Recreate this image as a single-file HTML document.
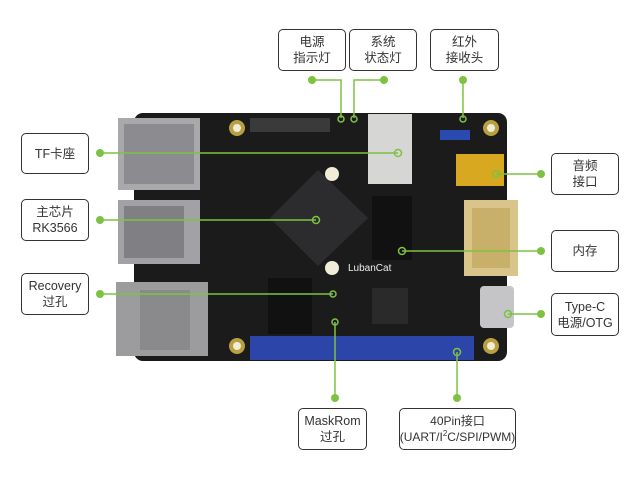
<!DOCTYPE html>
<html><head><meta charset="utf-8"><style>
html,body{margin:0;padding:0;background:#fff;}
body{width:640px;height:480px;position:relative;overflow:hidden;font-family:"Liberation Sans","Noto Sans CJK SC",sans-serif;}
.b{position:absolute;border:1.5px solid #333;border-radius:5px;background:#fff;box-sizing:border-box;display:flex;align-items:center;justify-content:center;text-align:center;font-size:12.5px;line-height:16px;color:#333;}
.b span{display:block;white-space:nowrap;}
svg{position:absolute;left:0;top:0;}
</style></head><body>
<svg width="640" height="480" viewBox="0 0 640 480">
<rect x="134" y="113" width="373" height="248" rx="9" fill="#1c1b1c"/>
<rect x="250" y="118" width="80" height="14" fill="#3a3a3a"/>
<rect x="118" y="118" width="82" height="72" fill="#a9a9ab"/>
<rect x="124" y="124" width="70" height="60" fill="#8c8c90"/>
<rect x="118" y="200" width="82" height="64" fill="#a2a2a6"/>
<rect x="124" y="206" width="60" height="52" fill="#7f7f84"/>
<rect x="116" y="282" width="92" height="74" fill="#9c9c9e"/>
<rect x="140" y="290" width="50" height="60" fill="#8a8a8d"/>
<rect x="368" y="114" width="44" height="70" fill="#d6d6d4"/>
<rect x="456" y="154" width="48" height="32" fill="#d8a820"/>
<rect x="464" y="200" width="54" height="76" fill="#d9c48a"/>
<rect x="472" y="208" width="38" height="60" fill="#c9b06a"/>
<rect x="480" y="286" width="34" height="42" rx="4" fill="#c5c5c7"/>
<polygon points="318,170 368,218 318,266 270,218" fill="#2c2c2e"/>
<rect x="372" y="196" width="40" height="64" fill="#111"/>
<rect x="268" y="278" width="44" height="56" fill="#111"/>
<rect x="372" y="288" width="36" height="36" fill="#2a2a2a"/>
<rect x="440" y="130" width="30" height="10" fill="#2a4ab0"/>
<rect x="250" y="336" width="224" height="24" fill="#2b46a8"/>
<g fill="#b8a040"><circle cx="237" cy="128" r="8"/><circle cx="491" cy="128" r="8"/><circle cx="237" cy="346" r="8"/><circle cx="491" cy="346" r="8"/></g>
<g fill="#f0ecd8"><circle cx="237" cy="128" r="4"/><circle cx="491" cy="128" r="4"/><circle cx="237" cy="346" r="4"/><circle cx="491" cy="346" r="4"/><circle cx="332" cy="174" r="7"/><circle cx="332" cy="268" r="7"/></g>
<text x="348" y="271" font-size="10" fill="#eee" font-family="Liberation Sans">LubanCat</text>
<g stroke="#7dc242" stroke-width="1.5" fill="none">
<polyline points="312,80 341,80 341,118"/>
<polyline points="384,80 354,80 354,118"/>
<line x1="463" y1="80" x2="463" y2="118"/>
<line x1="100" y1="153" x2="398" y2="153"/>
<line x1="100" y1="220" x2="316" y2="220"/>
<line x1="100" y1="294" x2="333" y2="294"/>
<line x1="402" y1="251" x2="541" y2="251"/>
<line x1="496" y1="174" x2="541" y2="174"/>
<line x1="508" y1="314" x2="541" y2="314"/>
<line x1="335" y1="322" x2="335" y2="398"/>
<line x1="457" y1="352" x2="457" y2="398"/>
</g>
<g fill="#7dc242">
<circle cx="312" cy="80" r="4"/><circle cx="384" cy="80" r="4"/><circle cx="463" cy="80" r="4"/>
<circle cx="100" cy="153" r="4"/><circle cx="100" cy="220" r="4"/><circle cx="100" cy="294" r="4"/>
<circle cx="541" cy="174" r="4"/><circle cx="541" cy="251" r="4"/><circle cx="541" cy="314" r="4"/>
<circle cx="335" cy="398" r="4"/><circle cx="457" cy="398" r="4"/>
</g>
<g fill="none" stroke="#7dc242" stroke-width="1.5">
<circle cx="341" cy="119" r="3"/><circle cx="354" cy="119" r="3"/><circle cx="463" cy="119" r="3"/>
<circle cx="398" cy="153" r="3.5"/><circle cx="316" cy="220" r="3.5"/><circle cx="333" cy="294" r="3"/>
<circle cx="402" cy="251" r="3.5"/><circle cx="496" cy="174" r="3.5"/><circle cx="508" cy="314" r="3.5"/>
<circle cx="335" cy="322" r="3"/><circle cx="457" cy="352" r="3.5"/>
</g>
</svg>
<div class="b" style="left:278px;top:29px;width:68px;height:42px;"><span>电源<br>指示灯</span></div>
<div class="b" style="left:349px;top:29px;width:68px;height:42px;"><span>系统<br>状态灯</span></div>
<div class="b" style="left:430px;top:29px;width:69px;height:42px;"><span>红外<br>接收头</span></div>
<div class="b" style="left:21px;top:133px;width:68px;height:41px;"><span>TF卡座</span></div>
<div class="b" style="left:21px;top:199px;width:68px;height:42px;"><span>主芯片<br>RK3566</span></div>
<div class="b" style="left:21px;top:273px;width:68px;height:42px;"><span>Recovery<br>过孔</span></div>
<div class="b" style="left:551px;top:153px;width:68px;height:42px;"><span>音频<br>接口</span></div>
<div class="b" style="left:551px;top:230px;width:68px;height:42px;"><span>内存</span></div>
<div class="b" style="left:551px;top:293px;width:68px;height:43px;"><span>Type-C<br>电源/OTG</span></div>
<div class="b" style="left:298px;top:408px;width:69px;height:42px;"><span>MaskRom<br>过孔</span></div>
<div class="b" style="left:399px;top:408px;width:117px;height:42px;font-size:12px;"><span>40Pin接口<br>(UART/I<sup style="font-size:8px;line-height:0">2</sup>C/SPI/PWM)</span></div>
</body></html>
